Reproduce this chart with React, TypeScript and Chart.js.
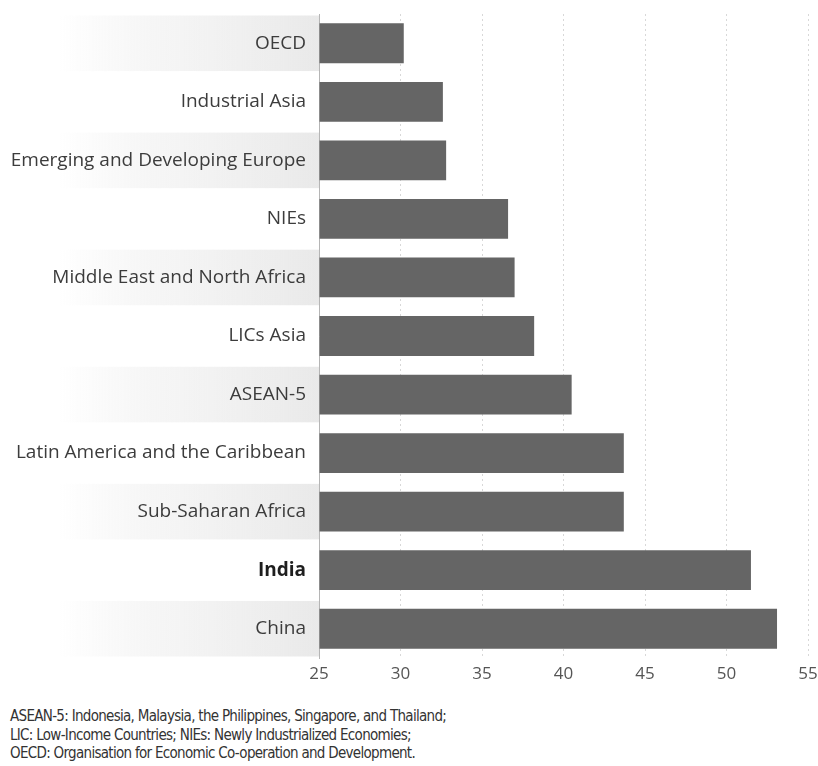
import React, { useEffect, useRef } from "react";
import { Chart, registerables } from "chart.js";

Chart.register(...registerables);

const categories = [
  "OECD",
  "Industrial Asia",
  "Emerging and Developing Europe",
  "NIEs",
  "Middle East and North Africa",
  "LICs Asia",
  "ASEAN-5",
  "Latin America and the Caribbean",
  "Sub-Saharan Africa",
  "India",
  "China",
];

const values = [30.2, 32.6, 32.8, 36.6, 37.0, 38.2, 40.5, 43.7, 43.7, 51.5, 53.1];

const xTicks = [25, 30, 35, 40, 45, 50, 55];

const highlighted = "India";

const footnoteLines = [
  "ASEAN-5: Indonesia, Malaysia, the Philippines, Singapore, and Thailand;",
  "LIC: Low-Income Countries; NIEs: Newly Industrialized Economies;",
  "OECD: Organisation for Economic Co-operation and Development.",
];

const LABEL_FONT = "'Open Sans', 'DejaVu Sans', sans-serif";

// Shaded label bands behind every other category row
const rowBands = {
  id: "rowBands",
  beforeDraw(chart: any) {
    const { ctx, scales, chartArea } = chart;
    const y = scales.y;
    const pitch = (y.bottom - y.top) / categories.length;
    const left = 60;
    const right = chartArea.left;
    ctx.save();
    categories.forEach((_, i) => {
      if (i % 2 !== 0) return;
      const cy = y.getPixelForValue(i);
      const h = pitch - 3;
      const grad = ctx.createLinearGradient(left, 0, right, 0);
      grad.addColorStop(0, "rgba(238,238,238,0)");
      grad.addColorStop(0.35, "rgba(240,240,240,0.6)");
      grad.addColorStop(1, "rgba(233,233,233,1)");
      ctx.fillStyle = grad;
      ctx.fillRect(left, cy - h / 2, right - left, h);
    });
    ctx.restore();
  },
};

export default function App() {
  const canvasRef = useRef<HTMLCanvasElement | null>(null);

  useEffect(() => {
    if (!canvasRef.current) return;
    const chart = new Chart(canvasRef.current, {
      type: "bar",
      data: {
        labels: categories,
        datasets: [
          {
            data: values,
            backgroundColor: "#656565",
            borderWidth: 0,
            barPercentage: 0.8,
            categoryPercentage: 0.85,
            base: 25,
          },
        ],
      },
      options: {
        indexAxis: "y",
        animation: false,
        responsive: false,
        maintainAspectRatio: false,
        layout: { padding: { top: 14, right: 10, left: 0, bottom: 0 } },
        plugins: {
          legend: { display: false },
          tooltip: { enabled: false },
        },
        scales: {
          x: {
            min: 25,
            max: 55,
            afterBuildTicks: (scale: any) => {
              scale.ticks = xTicks.map((v) => ({ value: v }));
            },
            afterFit: (scale: any) => {
              scale.height = 32;
              scale.paddingLeft = 0;
              scale.paddingRight = 0;
            },
            grid: {
              display: true,
              color: "#d8d8d8",
              lineWidth: 1,
              drawTicks: false,
            },
            border: { display: false, dash: [2, 3] },
            ticks: {
              color: "#555",
              padding: 6,
              font: { family: LABEL_FONT, size: 17 },
            },
          },
          y: {
            afterFit: (scale: any) => {
              scale.width = 319;
              scale.paddingTop = 0;
              scale.paddingBottom = 0;
            },
            grid: { display: false, drawTicks: false },
            border: { display: true, color: "#b5b5b5", width: 1 },
            ticks: {
              padding: 13,
              color: (ctx: any) =>
                categories[ctx.index] === highlighted ? "#1e1e1e" : "#3c3c3c",
              font: (ctx: any) => ({
                family: LABEL_FONT,
                size: 19,
                weight: categories[ctx.index] === highlighted ? "bold" : "normal",
              }),
            },
          },
        },
      },
      plugins: [rowBands],
    } as any);
    return () => chart.destroy();
  }, []);

  return (
    <div
      style={{
        position: "fixed",
        left: 0,
        top: 0,
        width: 818,
        height: 766,
        background: "#fff",
      }}
    >
      <canvas ref={canvasRef} width={818} height={690} style={{ display: "block" }} />
      <div
        style={{
          position: "absolute",
          left: 10,
          top: 707,
          fontFamily: "'Liberation Sans Narrow', 'DejaVu Sans Condensed', sans-serif",
          fontSize: 15,
          letterSpacing: "-0.7px",
          lineHeight: "18.5px",
          color: "#333",
        }}
      >
        {footnoteLines.map((line) => (
          <div key={line}>{line}</div>
        ))}
      </div>
    </div>
  );
}
